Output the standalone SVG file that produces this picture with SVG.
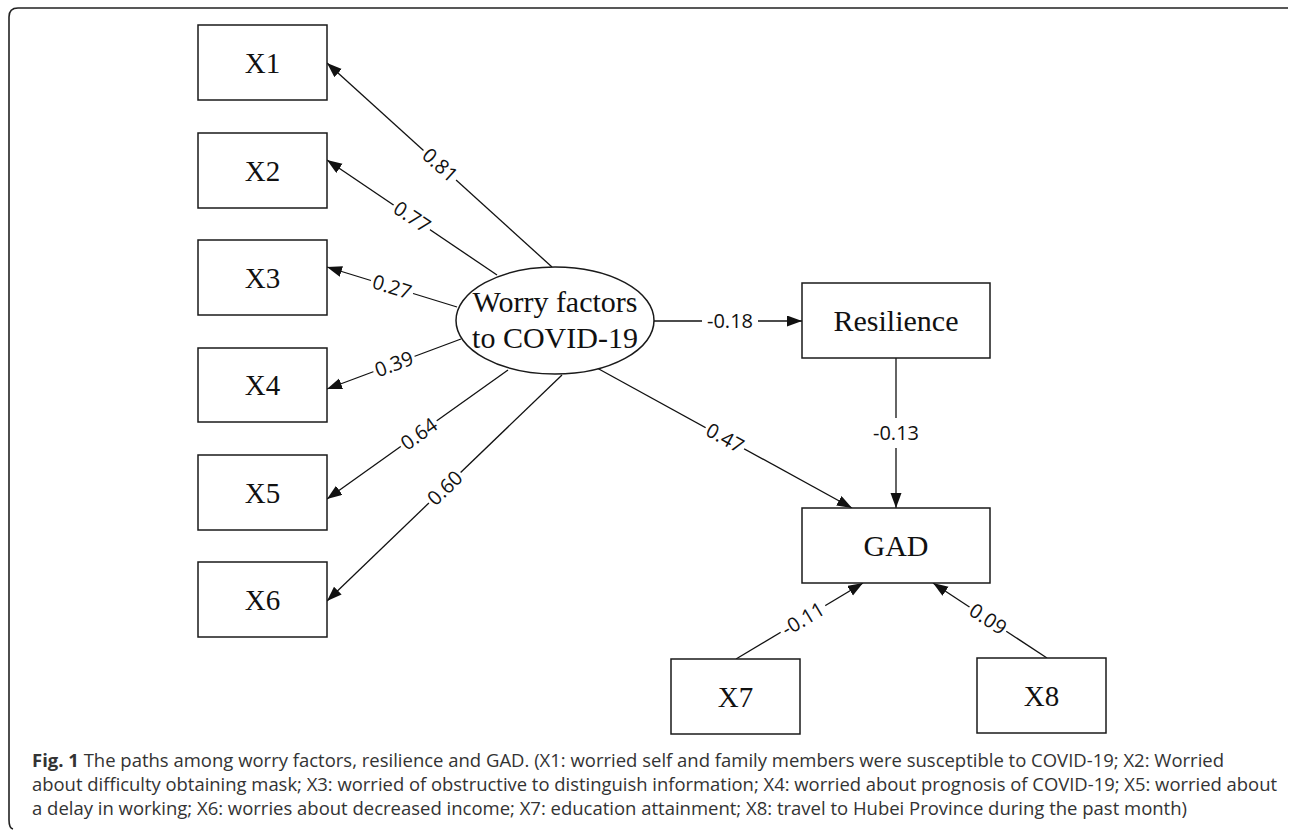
<svg xmlns="http://www.w3.org/2000/svg" width="1290" height="831" viewBox="0 0 1290 831">
<style>
.box{fill:#fff;stroke:#1a1a1a;stroke-width:1.5}
.ntxt{font-family:"Liberation Serif","Times New Roman",serif;font-size:30px;fill:#111;text-anchor:middle}
.edge{stroke:#111;stroke-width:1.3;fill:none;marker-end:url(#arr)}
.lbg{fill:#fff}
.ltxt{font-family:"Open Sans","Noto Sans",sans-serif;font-size:20px;fill:#111;text-anchor:middle}
.cap{font-family:"Open Sans","Noto Sans",sans-serif;font-size:18px;fill:#333}
</style>
<defs>
<marker id="arr" markerWidth="16" markerHeight="12" refX="15" refY="5.5" orient="auto" markerUnits="userSpaceOnUse">
<path d="M0,0 L15,5.5 L0,11 z" fill="#111"/>
</marker>
</defs>
<rect width="1290" height="831" fill="#fff"/>
<path d="M1288,8 H18 Q9,8 9,17 V820 Q9,828 13,829" fill="none" stroke="#222" stroke-width="1.6"/>

<g id="connectors">
<line class="edge" x1="552" y1="267" x2="327" y2="63"/>
<line class="edge" x1="497" y1="275" x2="327" y2="160"/>
<line class="edge" x1="457" y1="307" x2="327" y2="267"/>
<line class="edge" x1="461" y1="339" x2="327" y2="389"/>
<line class="edge" x1="508" y1="370" x2="327" y2="499"/>
<line class="edge" x1="562" y1="375" x2="327" y2="601"/>
<line class="edge" x1="654" y1="321" x2="802" y2="321"/>
<line class="edge" x1="597" y1="368" x2="852" y2="508"/>
<line class="edge" x1="896" y1="358" x2="896" y2="508"/>
<line class="edge" x1="736" y1="659" x2="863" y2="583"/>
<line class="edge" x1="1047" y1="658" x2="933" y2="583"/>
<g transform="translate(440,165) rotate(42.2)"><rect class="lbg" x="-22" y="-10" width="44" height="20"/><text class="ltxt" dy="0.35em">0.81</text></g>
<g transform="translate(412,217) rotate(34.1)"><rect class="lbg" x="-22" y="-10" width="44" height="20"/><text class="ltxt" dy="0.35em">0.77</text></g>
<g transform="translate(392,287) rotate(17.1)"><rect class="lbg" x="-22" y="-10" width="44" height="20"/><text class="ltxt" dy="0.35em">0.27</text></g>
<g transform="translate(394,364) rotate(-20.5)"><rect class="lbg" x="-22" y="-10" width="44" height="20"/><text class="ltxt" dy="0.35em">0.39</text></g>
<g transform="translate(419,434) rotate(-35.5)"><rect class="lbg" x="-22" y="-10" width="44" height="20"/><text class="ltxt" dy="0.35em">0.64</text></g>
<g transform="translate(445,488) rotate(-43.9)"><rect class="lbg" x="-22" y="-10" width="44" height="20"/><text class="ltxt" dy="0.35em">0.60</text></g>
<g transform="translate(730,321)"><rect class="lbg" x="-28" y="-10" width="56" height="20"/><text class="ltxt" dy="0.35em">-0.18</text></g>
<g transform="translate(725,438) rotate(28.8)"><rect class="lbg" x="-22" y="-10" width="44" height="20"/><text class="ltxt" dy="0.35em">0.47</text></g>
<g transform="translate(896,433)"><rect class="lbg" x="-26" y="-15" width="52" height="30"/><text class="ltxt" dy="0.35em">-0.13</text></g>
<g transform="translate(803,619) rotate(-30.9)"><rect class="lbg" x="-26" y="-10" width="52" height="20"/><text class="ltxt" dy="0.35em">-0.11</text></g>
<g transform="translate(988,619) rotate(33.3)"><rect class="lbg" x="-22" y="-10" width="44" height="20"/><text class="ltxt" dy="0.35em">0.09</text></g>
</g>

<g id="worry"><ellipse class="box" cx="555" cy="320.5" rx="99" ry="53.5"/><text class="ntxt" x="555" y="312">Worry factors</text><text class="ntxt" x="555" y="348">to COVID-19</text></g>
<g id="x1"><rect class="box" x="198" y="25" width="129" height="75"/><text class="ntxt" x="262.5" y="72.5" style="font-size:29px">X1</text></g>
<g id="x2"><rect class="box" x="198" y="133" width="129" height="75"/><text class="ntxt" x="262.5" y="180.5" style="font-size:29px">X2</text></g>
<g id="x3"><rect class="box" x="198" y="240" width="129" height="75"/><text class="ntxt" x="262.5" y="287.5" style="font-size:29px">X3</text></g>
<g id="x4"><rect class="box" x="198" y="348" width="129" height="74"/><text class="ntxt" x="262.5" y="395" style="font-size:29px">X4</text></g>
<g id="x5"><rect class="box" x="198" y="455" width="129" height="75"/><text class="ntxt" x="262.5" y="502.5" style="font-size:29px">X5</text></g>
<g id="x6"><rect class="box" x="198" y="562" width="129" height="75"/><text class="ntxt" x="262.5" y="609.5" style="font-size:29px">X6</text></g>
<g id="resilience"><rect class="box" x="802" y="283" width="188" height="75"/><text class="ntxt" x="896" y="330.5">Resilience</text></g>
<g id="gad"><rect class="box" x="802" y="508" width="188" height="75"/><text class="ntxt" x="896" y="555.5">GAD</text></g>
<g id="x7"><rect class="box" x="671" y="659" width="129" height="75"/><text class="ntxt" x="735.5" y="706.5" style="font-size:29px">X7</text></g>
<g id="x8"><rect class="box" x="977" y="658" width="129" height="75"/><text class="ntxt" x="1041.5" y="705.5" style="font-size:29px">X8</text></g>

<g id="caption">
<text class="cap" x="32" y="767" textLength="1192" lengthAdjust="spacingAndGlyphs"><tspan font-weight="bold">Fig. 1</tspan> The paths among worry factors, resilience and GAD. (X1: worried self and family members were susceptible to COVID-19; X2: Worried</text>
<text class="cap" x="32" y="791" textLength="1245" lengthAdjust="spacingAndGlyphs">about difficulty obtaining mask; X3: worried of obstructive to distinguish information; X4: worried about prognosis of COVID-19; X5: worried about</text>
<text class="cap" x="32" y="815" textLength="1155" lengthAdjust="spacingAndGlyphs">a delay in working; X6: worries about decreased income; X7: education attainment; X8: travel to Hubei Province during the past month)</text>
</g>
</svg>
